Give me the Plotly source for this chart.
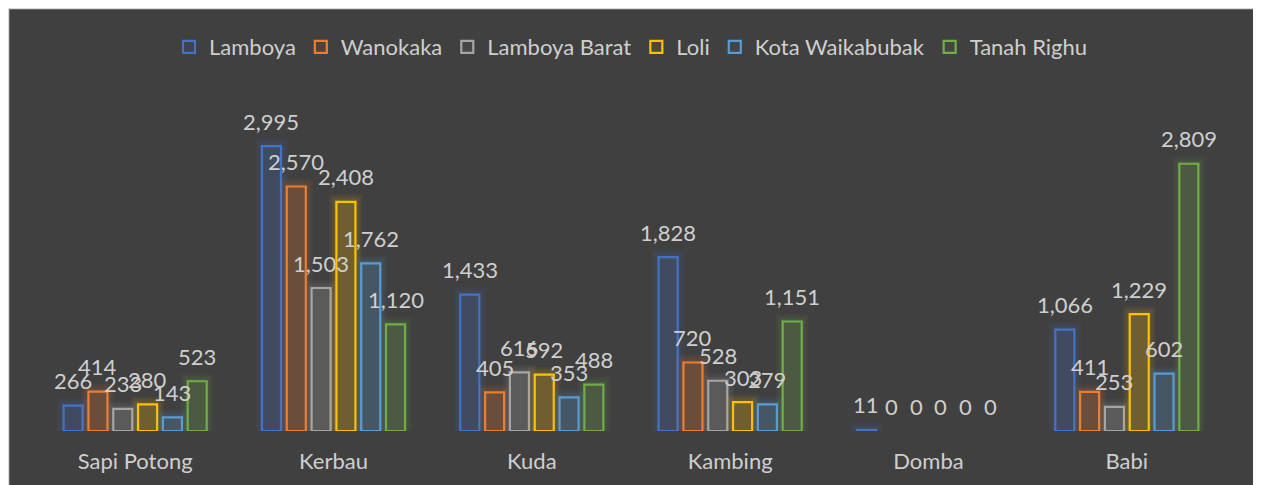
import plotly.graph_objects as go

categories = ["Sapi Potong", "Kerbau", "Kuda", "Kambing", "Domba", "Babi"]
series_names = ["Lamboya", "Wanokaka", "Lamboya Barat", "Loli", "Kota Waikabubak", "Tanah Righu"]
lamboya = [266, 2995, 1433, 1828, 11, 1066]
wanokaka = [414, 2570, 405, 720, 0, 411]
lamboya_barat = [233, 1503, 616, 528, 0, 253]
loli = [280, 2408, 592, 303, 0, 1229]
kota_waikabubak = [143, 1762, 353, 279, 0, 602]
tanah_righu = [523, 1120, 488, 1151, 0, 2809]
series_values = [lamboya, wanokaka, lamboya_barat, loli, kota_waikabubak, tanah_righu]
colors = ["#4472C4", "#ED7D31", "#A5A5A5", "#FFC000", "#5B9BD5", "#70AD47"]

FONT = "Lato"
TXT = "#CFCFCF"
BG = "#404040"

def rgba(h, a):
    h = h.lstrip("#")
    r, g, b = int(h[0:2], 16), int(h[2:4], 16), int(h[4:6], 16)
    return f"rgba({r},{g},{b},{a})"

pitch = 0.1251
bw = 0.0959
x_idx = list(range(len(categories)))

W, H = 1248, 477
L, R, T, B = 28, 30, 90, 54
pw, ph = W - L - R, H - T - B

fig = go.Figure()
annotations = []
for i, (name, vals, col) in enumerate(zip(series_names, series_values, colors)):
    center = (i - 2.5) * pitch
    # soft glow layers
    for extra, pad, a in [(0.07, 80, 0.06), (0.045, 55, 0.07), (0.022, 30, 0.09)]:
        gw = bw + extra
        fig.add_trace(go.Bar(
            x=x_idx, y=[v + pad if v > 0 else 0 for v in vals],
            width=gw, offset=center - gw / 2,
            marker=dict(color=rgba(col, a), line=dict(width=0)),
            showlegend=False, hoverinfo="skip"))
    fig.add_trace(go.Bar(
        x=x_idx, y=vals, name=name, width=bw, offset=center - bw / 2,
        marker=dict(color=rgba(col, 0.06),
                    line=dict(color=col, width=[2.2 if v > 0 else 0 for v in vals])),
    ))
    for k, v in enumerate(vals):
        annotations.append(dict(
            x=k + center, y=v, xref="x", yref="y", text=f"{v:,}",
            showarrow=False, yshift=25, yanchor="middle", xanchor="center",
            font=dict(family=FONT, size=22, color=TXT)))

shapes = [dict(type="rect", xref="paper", yref="paper",
               x0=(0.5 - L) / pw, x1=(W - 0.5 - L) / pw,
               y0=-(B + 10) / ph, y1=(ph + T - 0.5) / ph,
               fillcolor="rgba(0,0,0,0)", line=dict(color="#D9D9D9", width=1.5),
               layer="below")]

fig.update_layout(
    width=W, height=H,
    margin=dict(l=L, r=R, t=T, b=B),
    paper_bgcolor=BG, plot_bgcolor=BG,
    barmode="overlay",
    shapes=shapes,
    annotations=annotations,
    font=dict(family=FONT, color=TXT),
    showlegend=True,
    legend=dict(orientation="h", x=0.5, xanchor="center", y=1.153, yanchor="middle",
                font=dict(family=FONT, size=22, color=TXT), bgcolor="rgba(0,0,0,0)",
                itemwidth=30, traceorder="normal"),
    xaxis=dict(tickmode="array", tickvals=x_idx, ticktext=categories,
               range=[-0.5, 5.5], showgrid=False, zeroline=False, showline=False,
               ticks="", tickfont=dict(family=FONT, size=22, color=TXT),
               ticklabelstandoff=15),
    yaxis=dict(range=[0, 3500], visible=False, showgrid=False, zeroline=False),
)

fig.write_html("out.html")
